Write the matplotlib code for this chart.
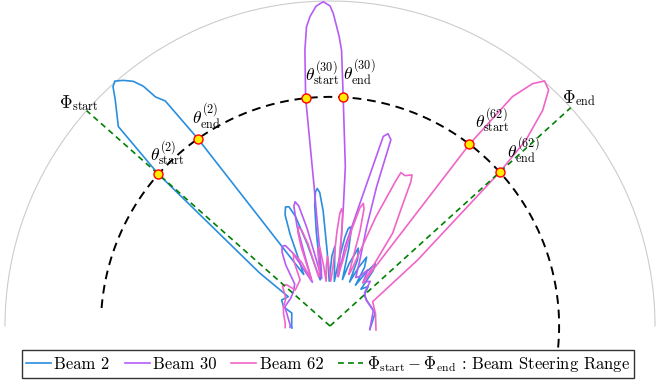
import numpy as np
import matplotlib
matplotlib.use("Agg")
import matplotlib.pyplot as plt
from matplotlib.lines import Line2D

plt.rcParams["font.family"] = "serif"
plt.rcParams["font.serif"] = ["cmr10", "DejaVu Serif"]
plt.rcParams["mathtext.fontset"] = "cm"
plt.rcParams["axes.unicode_minus"] = False

# beam patterns:
# angle from boresight in degrees (+ = right), radius normalised to the outer ring
beam2_deg = [-93, -90, -71.3, -67.5, -61.7, -54.9, -53.0, -48.5, -46.7, -45.1, -43.5,
             -42.2, -41.3, -40.1, -38.8, -37.9, -37.3, -36.2, -36.0, -35.2, -33.0, -27,
             -25, -23.5, -22, -20.5, -19, -17.5, -15.5, -13.5, -12,
             -10, -8.3, -7.2, -6.2, -5.3, -4.4, -3.4, -2.2, -1,
             1.5, 3.5, 5.5,
             8, 9.5, 10.6, 11.6, 12.6, 13.6, 15,
             17, 20, 22.5, 24,
             26, 28, 30.5, 32,
             34, 36, 38, 40,
             44, 48, 54.7, 74.2, 95]
beam2_r = [0.117, 0.118, 0.124, 0.155, 0.169, 0.157, 0.271, 0.705, 0.895, 0.926, 0.960,
           0.994, 1.003, 0.988, 0.966, 0.935, 0.886, 0.858, 0.822, 0.705, 0.394, 0.178,
           0.231, 0.308, 0.369, 0.391, 0.388, 0.354, 0.262, 0.178, 0.145,
           0.169, 0.292, 0.375, 0.415, 0.425, 0.412, 0.354, 0.231, 0.138,
           0.215, 0.246, 0.138,
           0.215, 0.277, 0.305, 0.311, 0.295, 0.246, 0.148,
           0.200, 0.255, 0.222, 0.148,
           0.200, 0.240, 0.209, 0.148,
           0.200, 0.237, 0.215, 0.148,
           0.169, 0.142, 0.138, 0.144, 0.123]

beam30_deg = [-92, -88, -67, -55, -47,
              -40, -36, -33, -31, -29, -27, -24.5, -22,
              -20, -18.3, -16.8, -15.7, -14.6, -13.2, -11.5, -10,
              -8.5, -6.5, -6.1, -5.2, -4.5, -3.7, -2.5, -1.2, 0.0, 0.6, 1.8, 2.4, 3.3,
              5.5, 6.4, 8.5, 9.6,
              10.7, 13.7, 15.7, 16.8, 18.1, 18.5, 20.3, 24.4, 28,
              31, 34, 37, 42, 46,
              54, 70, 95]
beam30_r = [0.123, 0.123, 0.151, 0.148, 0.154,
            0.169, 0.231, 0.271, 0.286, 0.283, 0.252, 0.185, 0.145,
            0.215, 0.323, 0.385, 0.397, 0.382, 0.308, 0.200, 0.148,
            0.185, 0.431, 0.705, 0.852, 0.923, 0.954, 0.985, 0.998, 0.985, 0.962, 0.892,
            0.849, 0.705,
            0.492, 0.369, 0.200, 0.154,
            0.249, 0.388, 0.606, 0.618, 0.603, 0.452, 0.326, 0.222, 0.169,
            0.178, 0.209, 0.169, 0.185, 0.148,
            0.137, 0.142, 0.123]

beam62_deg = [-92, -86.6, -75, -67.6, -58, -50, -46.5, -44,
              -33, -29, -26.8, -24, -22,
              -21, -20, -18.8, -17.7, -16.5, -15, -13,
              -11, -9, -7.5, -6, -5,
              -3.5, -2, -0.5, 1,
              3, 4.2, 5.0, 5.7, 6.4, 7.2, 8.5,
              11, 12.8, 14.2, 15.2, 16.2, 17.5, 20,
              21, 22.8, 24.4, 24.8, 26.5, 28.5, 29.3, 31, 34, 36,
              37.4, 37.5, 38.5, 39.9, 41.2, 42.8, 44.6, 46.5, 47.8, 53, 60.3,
              75, 95]
beam62_r = [0.138, 0.138, 0.148, 0.155, 0.160, 0.191, 0.185, 0.154,
            0.169, 0.231, 0.249, 0.215, 0.154,
            0.185, 0.262, 0.308, 0.320, 0.308, 0.262, 0.154,
            0.169, 0.240, 0.246, 0.185, 0.138,
            0.185, 0.215, 0.169, 0.138,
            0.185, 0.292, 0.348, 0.363, 0.348, 0.292, 0.154,
            0.200, 0.308, 0.375, 0.391, 0.375, 0.308, 0.169,
            0.185, 0.365, 0.492, 0.520, 0.517, 0.529, 0.508, 0.431, 0.345, 0.215,
            0.166, 0.705, 0.902, 0.972, 1.002, 0.990, 0.932, 0.831, 0.705, 0.338, 0.151,
            0.145, 0.142]

beams = [("Beam 2", beam2_deg, beam2_r, "#2a8ede"),
         ("Beam 30", beam30_deg, beam30_r, "#b65cf5"),
         ("Beam 62", beam62_deg, beam62_r, "#f065c8")]

# ring with the start / end crossings of each beam
ring_r = 0.705
ring_span = (-85.5, 95.5)
cross_deg = [-48.5, -35.2, -6.1, 3.3, 37.5, 47.8]
cross_labels = [r"$\theta^{(2)}_{\mathrm{start}}$", r"$\theta^{(2)}_{\mathrm{end}}$",
                r"$\theta^{(30)}_{\mathrm{start}}$", r"$\theta^{(30)}_{\mathrm{end}}$",
                r"$\theta^{(62)}_{\mathrm{start}}$", r"$\theta^{(62)}_{\mathrm{end}}$"]
cross_offsets = [(-8, 6), (-6, 8), (-1, 10), (0, 10), (6, 9), (7, 7)]  # px

phi_start, phi_end = -48.5, 47.8


def to_xy(deg, r):
    a = np.radians(np.asarray(deg, dtype=float))
    r = np.asarray(r, dtype=float)
    return r * np.sin(a), r * np.cos(a)


fig = plt.figure(figsize=(6.56, 3.84), dpi=100)
ax = fig.add_axes([0, 0, 1, 1])
ax.set_xlim(-330 / 325, 326 / 325)
ax.set_ylim(-58 / 325, 326 / 325)
ax.set_aspect("equal")
ax.axis("off")

# outer ring
arc = np.linspace(-90, 90, 300)
ax.plot(*to_xy(arc, np.ones_like(arc)), color="#cccccc", lw=0.8, zorder=1)

for name, deg, r, c in beams:
    ax.plot(*to_xy(deg, r), color=c, lw=1.2, zorder=3)

# steering range
for p in (phi_start, phi_end):
    ax.plot(*to_xy([p, p], [0, 1.0]), color="green", lw=1.2, ls=(0, (3.5, 2.5)), zorder=4)

arc2 = np.linspace(ring_span[0], ring_span[1], 300)
ax.plot(*to_xy(arc2, np.full_like(arc2, ring_r)), color="black", lw=1.4,
        ls=(0, (4.5, 3)), zorder=2)

mx, my = to_xy(cross_deg, np.full(len(cross_deg), ring_r))
ax.plot(mx, my, "o", ms=6.5, mfc="#ffee00", mec="red", mew=1.0, ls="none", zorder=5)

for x, y, lab, (ox, oy) in zip(mx, my, cross_labels, cross_offsets):
    ax.annotate(lab, (x, y), xytext=(ox * 0.72, oy * 0.72), textcoords="offset points",
                ha="left", va="bottom", fontsize=12.5)

sx, sy = to_xy([phi_start], [1.0])
ax.annotate(r"$\Phi_{\mathrm{start}}$", (sx[0], sy[0]), xytext=(-28 * 0.72, -2 * 0.72),
            textcoords="offset points", ha="left", va="bottom", fontsize=12.5)
ex, ey = to_xy([phi_end], [1.0])
ax.annotate(r"$\Phi_{\mathrm{end}}$", (ex[0], ey[0]), xytext=(-9 * 0.72, 0),
            textcoords="offset points", ha="left", va="bottom", fontsize=12.5)

handles = [Line2D([], [], color=c, lw=1.2) for _, _, _, c in beams]
handles.append(Line2D([], [], color="green", lw=1.2, ls=(0, (3.5, 2.5))))
labels = [b[0] for b in beams] + [r"$\Phi_{\mathrm{start}} - \Phi_{\mathrm{end}}$ : Beam Steering Range"]
leg = fig.legend(handles, labels, loc="lower center", bbox_to_anchor=(0.5, 0.015), ncol=4,
                 fontsize=12, frameon=True, fancybox=False, edgecolor="black",
                 handlelength=1.5, handletextpad=0.2, columnspacing=0.9,
                 borderpad=0.25, borderaxespad=0)
leg.get_frame().set_linewidth(1.0)

fig.savefig("out.png", dpi=100)
